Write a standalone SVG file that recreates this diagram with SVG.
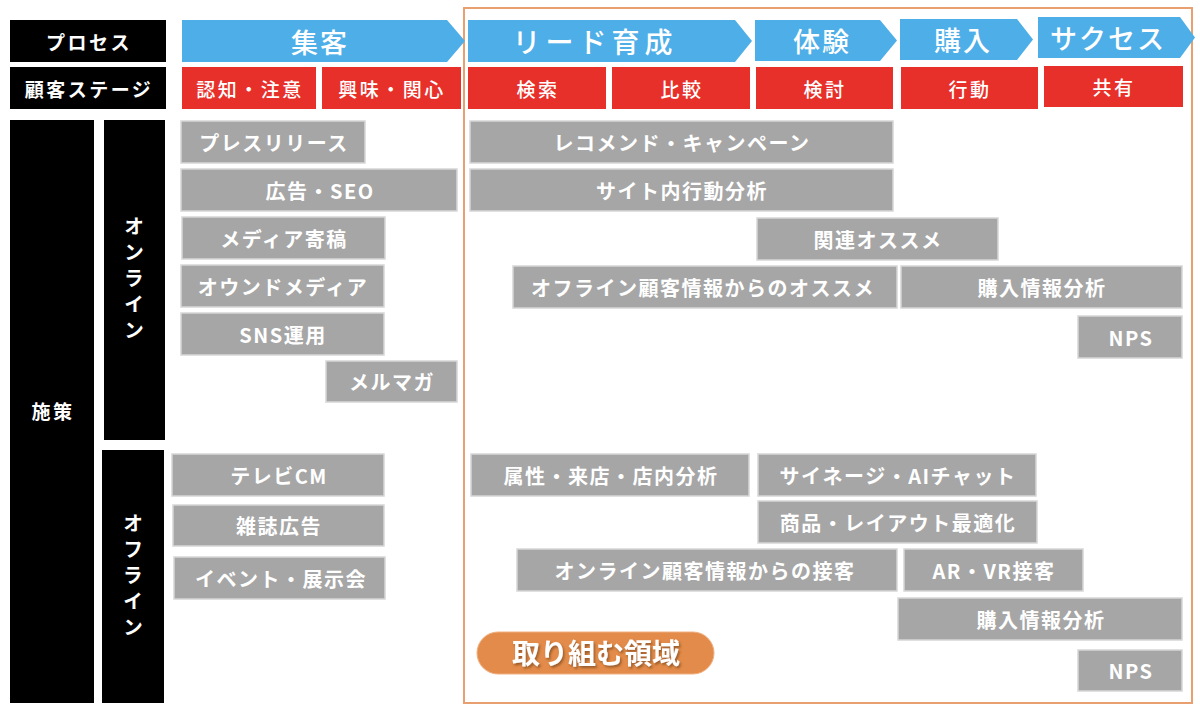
<svg xmlns="http://www.w3.org/2000/svg" width="1200" height="713" viewBox="0 0 1200 713">
<defs>
<style>
text{font-family:"Noto Sans CJK JP","Noto Sans",sans-serif;text-anchor:middle;dominant-baseline:central;}
.blk{fill:#000;}
.bt{fill:#fff;font-size:19px;font-weight:700;letter-spacing:2.5px;}
.arr{fill:#4DAEE8;}
.at{fill:#fff;font-size:27px;font-weight:500;letter-spacing:2px;}
.red{fill:#E8302A;}
.rt{fill:#fff;font-size:19px;font-weight:500;letter-spacing:2.5px;}
.g{fill:#A6A6A6;stroke:#D6D6D6;stroke-width:1.5;}
.gt{fill:#fff;font-size:20px;font-weight:700;letter-spacing:1.5px;}
.vt{fill:#fff;font-size:20px;font-weight:700;letter-spacing:6px;writing-mode:vertical-rl;}
</style>
<filter id="sh" x="-20%" y="-20%" width="140%" height="140%">
<feDropShadow dx="1.5" dy="2" stdDeviation="1" flood-color="#6b3a10" flood-opacity="0.6"/>
</filter>
</defs>
<rect width="1200" height="713" fill="#fff"/>

<g id="area">
<rect x="464" y="8" width="728" height="695" fill="none" stroke="#E8A070" stroke-width="2"/>
</g>

<g id="hdr-process"><rect class="blk" x="10" y="20" width="156" height="42"/><text class="bt" x="89" y="41">プロセス</text></g>
<g id="hdr-stage"><rect class="blk" x="10" y="67" width="156" height="42"/><text class="bt" x="89" y="88">顧客ステージ</text></g>
<g id="hdr-measure"><rect class="blk" x="10" y="120" width="84" height="583"/><text class="bt" x="53" y="410">施策</text></g>
<g id="hdr-online"><rect class="blk" x="104" y="120" width="61" height="320"/>
<text class="vt" x="134" y="281">オンライン</text></g>
<g id="hdr-offline"><rect class="blk" x="102" y="450" width="62" height="253"/>
<text class="vt" x="133" y="578">オフライン</text></g>

<g id="p-shukyaku"><polygon class="arr" points="182,20 447,20 465,41 447,62 182,62"/><text class="at" x="320" y="41">集客</text></g>
<g id="p-lead"><polygon class="arr" points="468,20 735,20 752,41 735,62 468,62"/><text class="at" x="595" y="41" style="letter-spacing:5px;font-size:28px">リード育成</text></g>
<g id="p-taiken"><polygon class="arr" points="755,20 880,20 897,40.5 880,61 755,61"/><text class="at" x="822" y="40">体験</text></g>
<g id="p-kounyu"><polygon class="arr" points="900,19 1017,19 1033,39.5 1017,60 900,60"/><text class="at" x="963" y="39">購入</text></g>
<g id="p-success"><polygon class="arr" points="1038,17 1180,17 1195,37.5 1180,58 1038,58"/><text class="at" x="1108" y="37">サクセス</text></g>

<g id="s1"><rect class="red" x="182" y="67" width="134" height="42"/><text class="rt" x="250" y="88">認知・注意</text></g>
<g id="s2"><rect class="red" x="322" y="67" width="139" height="42"/><text class="rt" x="392" y="88">興味・関心</text></g>
<g id="s3"><rect class="red" x="468" y="67" width="138" height="42"/><text class="rt" x="538" y="88">検索</text></g>
<g id="s4"><rect class="red" x="612" y="67" width="138" height="42"/><text class="rt" x="682" y="88">比較</text></g>
<g id="s5"><rect class="red" x="756" y="67" width="137" height="42"/><text class="rt" x="825" y="88">検討</text></g>
<g id="s6"><rect class="red" x="901" y="67" width="137" height="42"/><text class="rt" x="970" y="88">行動</text></g>
<g id="s7"><rect class="red" x="1044" y="66" width="139" height="41"/><text class="rt" x="1114" y="86">共有</text></g>

<g id="on1"><rect class="g" x="181" y="121" width="184" height="42"/><text class="gt" x="274" y="142">プレスリリース</text></g>
<g id="on2"><rect class="g" x="181" y="169" width="276" height="42"/><text class="gt" x="320" y="190">広告・SEO</text></g>
<g id="on3"><rect class="g" x="182" y="217" width="203" height="42"/><text class="gt" x="284" y="238">メディア寄稿</text></g>
<g id="on4"><rect class="g" x="181" y="265" width="203" height="42"/><text class="gt" x="283" y="286">オウンドメディア</text></g>
<g id="on5"><rect class="g" x="181" y="313" width="203" height="42"/><text class="gt" x="283" y="334">SNS運用</text></g>
<g id="on6"><rect class="g" x="326" y="361" width="131" height="41"/><text class="gt" x="392" y="381">メルマガ</text></g>

<g id="on7"><rect class="g" x="470" y="121" width="423" height="42"/><text class="gt" x="682" y="142">レコメンド・キャンペーン</text></g>
<g id="on8"><rect class="g" x="470" y="169" width="423" height="42"/><text class="gt" x="682" y="190">サイト内行動分析</text></g>
<g id="on9"><rect class="g" x="757" y="218" width="241" height="42"/><text class="gt" x="878" y="239">関連オススメ</text></g>
<g id="on10"><rect class="g" x="513" y="266" width="384" height="42"/><text class="gt" x="703" y="287">オフライン顧客情報からのオススメ</text></g>
<g id="on11"><rect class="g" x="901" y="266" width="281" height="42"/><text class="gt" x="1042" y="287">購入情報分析</text></g>
<g id="on12"><rect class="g" x="1078" y="316" width="104" height="42"/><text class="gt" x="1131" y="337">NPS</text></g>

<g id="off1"><rect class="g" x="172" y="454" width="212" height="42"/><text class="gt" x="279" y="475">テレビCM</text></g>
<g id="off2"><rect class="g" x="173" y="505" width="211" height="41"/><text class="gt" x="279" y="525">雑誌広告</text></g>
<g id="off3"><rect class="g" x="174" y="557" width="211" height="42"/><text class="gt" x="281" y="578">イベント・展示会</text></g>

<g id="off4"><rect class="g" x="471" y="454" width="278" height="42"/><text class="gt" x="611" y="475">属性・来店・店内分析</text></g>
<g id="off5"><rect class="g" x="758" y="454" width="278" height="42"/><text class="gt" x="898" y="475">サイネージ・AIチャット</text></g>
<g id="off6"><rect class="g" x="758" y="501" width="279" height="42"/><text class="gt" x="898" y="522">商品・レイアウト最適化</text></g>
<g id="off7"><rect class="g" x="517" y="549" width="380" height="42"/><text class="gt" x="705" y="570">オンライン顧客情報からの接客</text></g>
<g id="off8"><rect class="g" x="904" y="549" width="179" height="42"/><text class="gt" x="994" y="570">AR・VR接客</text></g>
<g id="off9"><rect class="g" x="898" y="598" width="284" height="42"/><text class="gt" x="1041" y="619">購入情報分析</text></g>
<g id="off10"><rect class="g" x="1078" y="650" width="104" height="41"/><text class="gt" x="1131" y="670">NPS</text></g>

<g id="label-area"><rect x="477" y="632" width="237" height="42" rx="21" ry="21" fill="#E38B4A" stroke="#F0B080" stroke-width="1"/><text x="596" y="652" fill="#fff" style="font-size:28px;font-weight:700" filter="url(#sh)">取り組む領域</text></g>
</svg>
